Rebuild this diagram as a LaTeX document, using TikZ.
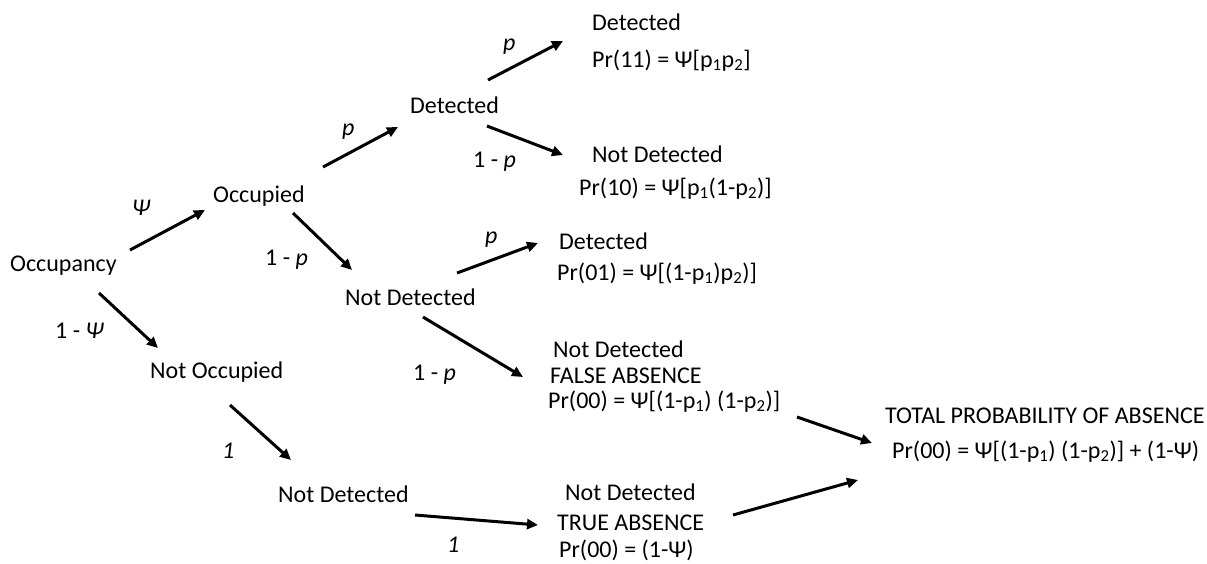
\documentclass[tikz,border=0pt]{standalone}
\usepackage{fontspec}
\setmainfont{Carlito}
\usetikzlibrary{arrows.meta}
\begin{document}
\begin{tikzpicture}[x=1pt,y=-1pt,
  txt/.style={anchor=base west,inner sep=0pt,font=\fontsize{24}{28}\selectfont},
  lbl/.style={txt},
  arr/.style={line width=3pt,-{Triangle[length=11pt,width=10pt]}}]
\useasboundingbox (0,0) rectangle (1207,563);
% level 0/1
\node[txt] (occ) at (10,271) {Occupancy};
\node[txt] (occd) at (213,202) {Occupied};
\node[txt] (nocc) at (150,378) {Not Occupied};
% level 2
\node[txt] (d2) at (410,113) {Detected};
\node[txt] (nd2) at (345,305) {Not Detected};
\node[txt] (nd2b) at (278,502) {Not Detected};
% outcomes
\node[txt] (d11) at (592,30) {Detected};
\node[txt] (p11) at (592,67) {Pr(11) = Ψ[p\textsubscript{1}p\textsubscript{2}]};
\node[txt] (nd10) at (592,162) {Not Detected};
\node[txt] (p10) at (579,195) {Pr(10) = Ψ[p\textsubscript{1}(1-p\textsubscript{2})]};
\node[txt] (d01) at (559,249) {Detected};
\node[txt] (p01) at (557,280) {Pr(01) = Ψ[(1-p\textsubscript{1})p\textsubscript{2})]};
\node[txt] (nd00) at (553,357) {Not Detected};
\node[txt] (fa) at (550,383) {FALSE ABSENCE};
\node[txt] (p00) at (548,408) {Pr(00) = Ψ[(1-p\textsubscript{1}) (1-p\textsubscript{2})]};
\node[txt] (ndt) at (565,500) {Not Detected};
\node[txt] (ta) at (557,530) {TRUE ABSENCE};
\node[txt] (pt) at (559,557) {Pr(00) = (1-Ψ)};
\node[txt] (tot) at (885,423) {TOTAL PROBABILITY OF ABSENCE};
\node[txt] (ptot) at (892,458) {Pr(00) = Ψ[(1-p\textsubscript{1}) (1-p\textsubscript{2})] + (1-Ψ)};
% labels
\node[lbl] (l1) at (132,215) {\textit{Ψ}};
\node[lbl] (l2) at (55,338) {1 - \textit{Ψ}};
\node[lbl] (l3) at (342,135) {\textit{p}};
\node[lbl] (l4) at (265,265) {1 - \textit{p}};
\node[lbl] (l5) at (503,50) {\textit{p}};
\node[lbl] (l6) at (473,167) {1 - \textit{p}};
\node[lbl] (l7) at (485,243) {\textit{p}};
\node[lbl] (l8) at (413,380) {1 - \textit{p}};
\node[lbl] (l9) at (222,458) {\textit{1}};
\node[lbl] (l10) at (447,552) {\textit{1}};
% arrow end points
\coordinate (a1t) at (130,250); \coordinate (a1h) at (205,210);
\coordinate (a2t) at (99,293);  \coordinate (a2h) at (158,348);
\coordinate (a3t) at (323,167); \coordinate (a3h) at (398,127);
\coordinate (a4t) at (293,213); \coordinate (a4h) at (352,270);
\coordinate (a5t) at (488,80);  \coordinate (a5h) at (563,41);
\coordinate (a6t) at (487,126); \coordinate (a6h) at (563,155);
\coordinate (a7t) at (457,273); \coordinate (a7h) at (538,243);
\coordinate (a8t) at (423,317); \coordinate (a8h) at (523,377);
\coordinate (a9t) at (230,405); \coordinate (a9h) at (291,460);
\coordinate (a10t) at (415,515); \coordinate (a10h) at (538,525);
\coordinate (a11t) at (797,417); \coordinate (a11h) at (872,443);
\coordinate (a12t) at (733,515); \coordinate (a12h) at (858,480);
\foreach \i in {1,...,12} {\draw[arr] (a\i t) -- (a\i h);}
\end{tikzpicture}
\end{document}
